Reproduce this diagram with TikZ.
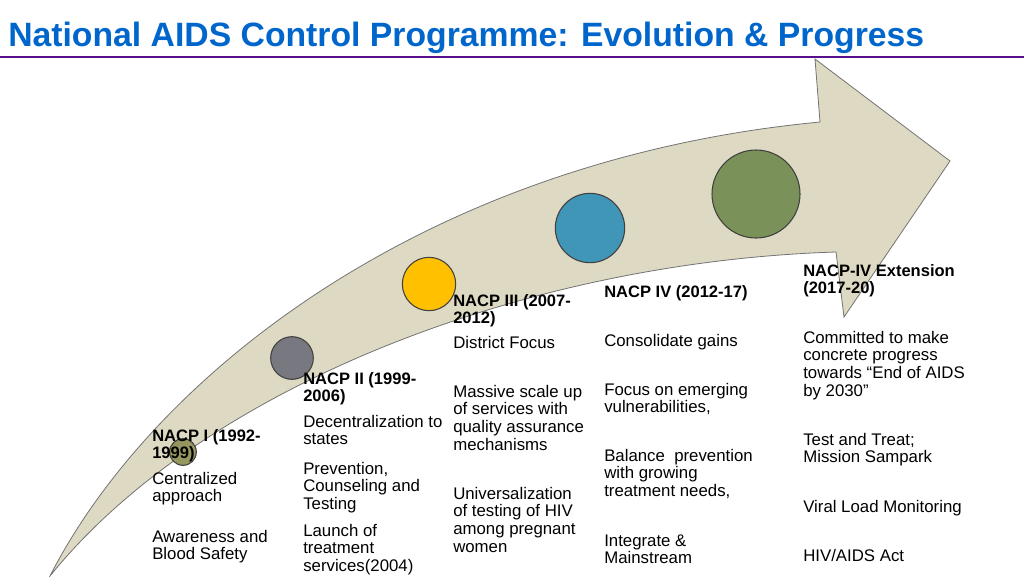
\documentclass[tikz,border=0pt]{standalone}
\usepackage{fontspec}
\setmainfont{Liberation Sans}
\begin{document}
\begin{tikzpicture}[x=0.75pt,y=-0.75pt,
  txt/.style={anchor=base west,inner sep=0pt,font=\fontsize{12.6}{13.5}\selectfont},
  hd/.style={txt,font=\fontsize{12.4}{13.5}\selectfont\bfseries},
  dot/.style={circle,draw=black!75,line width=0.8pt,inner sep=0pt}]
\useasboundingbox (0,0) rectangle (1024,576);
\definecolor{ttl}{RGB}{0,102,204}
\definecolor{rule}{RGB}{90,15,140}
\definecolor{band}{RGB}{221,217,195}
\node[anchor=base west,inner sep=0pt,text=ttl,font=\fontsize{25.3}{28}\selectfont\bfseries] (title) at (8,46) {National AIDS Control Programme: Evolution \& Progress};
\coordinate (r1) at (0,57); \coordinate (r2) at (1024,57);
\draw[rule,line width=2.2pt] (r1) -- (r2);
\fill[band,draw=black!55,line width=0.6pt] (50,576) .. controls (150,380) and (420,160) .. (820,122) -- (815,59) -- (950,161) -- (844,317) -- (836,252) .. controls (520,262) and (200,390) .. (50,576) -- cycle;
\node[dot,fill={rgb,255:red,150;green,150;blue,95},minimum size=20] (d1) at (183,452) {};
\node[dot,fill={rgb,255:red,120;green,120;blue,128},minimum size=32] (d2) at (292,358) {};
\node[dot,fill={rgb,255:red,255;green,192;blue,0},minimum size=40] (d3) at (429,284) {};
\node[dot,fill={rgb,255:red,64;green,150;blue,182},minimum size=52] (d4) at (590,228) {};
\node[dot,fill={rgb,255:red,122;green,145;blue,90},minimum size=66] (d5) at (756,194) {};
% column 1
\foreach \t [count=\i] in {NACP I (1992-,1999)} \node[hd] (a\i) at (152,441+17.6*\i-17.6) {\t};
\foreach \t [count=\i] in {Centralized,approach} \node[txt] (b\i) at (152,484+17.6*\i-17.6) {\t};
\foreach \t [count=\i] in {Awareness and,Blood Safety} \node[txt] (c\i) at (152,542+17.6*\i-17.6) {\t};
% column 2
\foreach \t [count=\i] in {NACP II (1999-,2006)} \node[hd] (e\i) at (303,384+17.6*\i-17.6) {\t};
\foreach \t [count=\i] in {Decentralization to,states} \node[txt] (f\i) at (303,427+17.6*\i-17.6) {\t};
\foreach \t [count=\i] in {{Prevention,},Counseling and,Testing} \node[txt] (g\i) at (303,474+17.6*\i-17.6) {\t};
\foreach \t [count=\i] in {Launch of,treatment,services(2004)} \node[txt] (h\i) at (303,536+17.6*\i-17.6) {\t};
% column 3
\foreach \t [count=\i] in {NACP III (2007-,2012)} \node[hd] (k\i) at (453,306+17.6*\i-17.6) {\t};
\node[txt] (l1) at (453,348) {District Focus};
\foreach \t [count=\i] in {Massive scale up,of services with,quality assurance,mechanisms} \node[txt] (m\i) at (453,397+17.8*\i-17.8) {\t};
\foreach \t [count=\i] in {Universalization,of testing of HIV,among pregnant,women} \node[txt] (n\i) at (453,499+17.8*\i-17.8) {\t};
% column 4
\node[hd] (p1) at (604,297) {NACP IV (2012-17)};
\node[txt] (q1) at (604,346) {Consolidate gains};
\foreach \t [count=\i] in {Focus on emerging,{vulnerabilities,}} \node[txt] (s\i) at (604,395+17.6*\i-17.6) {\t};
\foreach \t [count=\i] in {Balance\ \ prevention,with growing,{treatment needs,}} \node[txt] (t\i) at (604,461+17.8*\i-17.8) {\t};
\foreach \t [count=\i] in {Integrate \&,Mainstream} \node[txt] (u\i) at (604,546+17.6*\i-17.6) {\t};
% column 5
\foreach \t [count=\i] in {NACP-IV Extension,(2017-20)} \node[hd] (v\i) at (803,276+17.6*\i-17.6) {\t};
\foreach \t [count=\i] in {Committed to make,concrete progress,towards “End of AIDS,by 2030”} \node[txt] (w\i) at (803,343+17.7*\i-17.7) {\t};
\foreach \t [count=\i] in {Test and Treat;,Mission Sampark} \node[txt] (y\i) at (803,445+17.6*\i-17.6) {\t};
\node[txt] (z1) at (803,512) {Viral Load Monitoring};
\node[txt] (z2) at (803,561) {HIV/AIDS Act};
\end{tikzpicture}
\end{document}
